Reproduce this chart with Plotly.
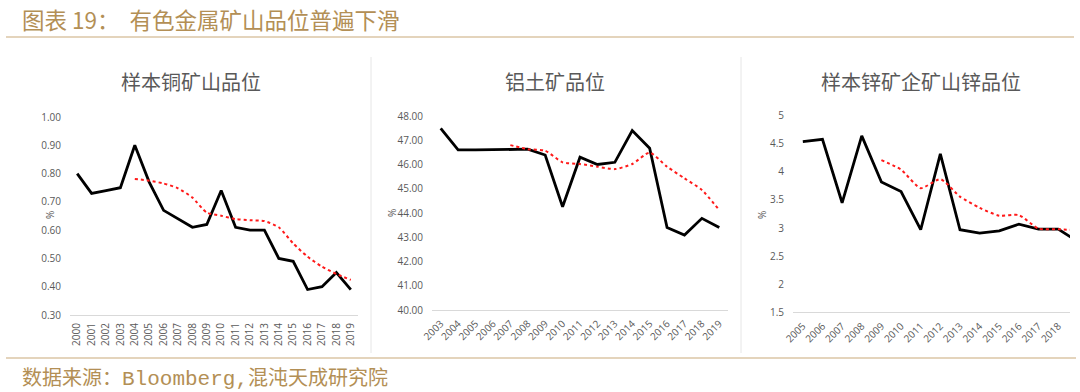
import plotly.graph_objects as go

W, H = 1080, 392

# ---- data ----
cu_years = [str(y) for y in range(2000, 2020)]
cu_grade = [0.80, 0.73, 0.74, 0.75, 0.90, 0.77, 0.67, 0.64, 0.61, 0.62,
            0.74, 0.61, 0.60, 0.60, 0.50, 0.49, 0.39, 0.40, 0.45, 0.39]
cu_trend_years = [str(y) for y in range(2004, 2020)]
cu_trend = [0.781, 0.775, 0.765, 0.748, 0.715, 0.662, 0.651, 0.639, 0.635, 0.632,
            0.610, 0.553, 0.506, 0.471, 0.445, 0.424]

al_years = [str(y) for y in range(2003, 2020)]
al_grade = [47.49, 46.60, 46.60, 46.60, 46.61, 46.63, 46.39, 44.26, 46.30, 46.00,
            46.09, 47.40, 46.67, 43.40, 43.09, 43.78, 43.40]
al_trend_years = [str(y) for y in range(2007, 2020)]
al_trend = [46.80, 46.63, 46.57, 46.09, 46.02, 45.91, 45.81, 46.02, 46.49, 45.91,
            45.43, 44.95, 44.12]

zn_years = [str(y) for y in range(2005, 2020)]
zn_grade = [4.54, 4.58, 3.45, 4.64, 3.82, 3.65, 2.97, 4.32, 2.97, 2.91,
            2.95, 3.07, 2.98, 2.98, 2.76]
zn_trend_years = [str(y) for y in range(2009, 2020)]
zn_trend = [4.21, 4.04, 3.71, 3.87, 3.56, 3.36, 3.22, 3.23, 2.99, 2.98, 2.96]

cu_ticks = [0.30, 0.40, 0.50, 0.60, 0.70, 0.80, 0.90, 1.00]
al_ticks = [40, 41, 42, 43, 44, 45, 46, 47, 48]
zn_ticks = [1.5, 2, 2.5, 3, 3.5, 4, 4.5, 5]

main_title = "图表 19：  有色金属矿山品位普遍下滑"
source_cjk1 = "数据来源："
source_en = "Bloomberg,"
source_cjk2 = "混沌天成研究院"
panel_titles = ["样本铜矿山品位", "铝土矿品位", "样本锌矿企矿山锌品位"]

# ---- styles ----
GOLD = "#b38f55"
TXT = "#595959"
AX = "#d9d9d9"
FONT = "Noto Sans CJK SC"

def px(x):
    return x / W

def py(y):
    return 1 - y / H

fig = go.Figure()

panels = [
    (cu_years, cu_grade, cu_trend_years, cu_trend, "x", "y"),
    (al_years, al_grade, al_trend_years, al_trend, "x2", "y2"),
    (zn_years, zn_grade, zn_trend_years, zn_trend, "x3", "y3"),
]
for xs, ys, txs, tys, xa, ya in panels:
    fig.add_trace(go.Scatter(x=xs, y=ys, mode="lines", xaxis=xa, yaxis=ya,
                             line=dict(color="black", width=2.8), showlegend=False,
                             hoverinfo="skip"))
    fig.add_trace(go.Scatter(x=txs, y=tys, mode="lines", xaxis=xa, yaxis=ya,
                             line=dict(color="#ff1a1a", width=2, dash="dot",
                                       shape="spline", smoothing=0.6),
                             showlegend=False, hoverinfo="skip"))

tickfont = dict(family="Open Sans", size=10, color=TXT)

def xaxis(domain, cats, rng, angle, anchor):
    return dict(domain=domain, anchor=anchor, type="category", categoryarray=cats,
                categoryorder="array", range=rng, showgrid=False, showline=True,
                linecolor=AX, linewidth=1, zeroline=False, tickangle=angle,
                tickfont=tickfont, ticks="", ticklabelstandoff=3, fixedrange=True,
                automargin=False)

def yaxis(domain, anchor, rng, tickvals, fmt):
    return dict(domain=domain, anchor=anchor, range=rng, tickvals=tickvals,
                tickformat=fmt, showgrid=False, showline=False, zeroline=False,
                tickfont=tickfont, ticks="", ticklabelstandoff=8, fixedrange=True,
                automargin=False)

fig.update_layout(
    width=W, height=H, margin=dict(l=0, r=0, t=0, b=0, pad=0, autoexpand=False),
    paper_bgcolor="white", plot_bgcolor="white",
    font=dict(family=FONT, color=TXT),
    xaxis=xaxis([px(70), px(358)], cu_years, [-0.5, 19.5], -90, "y"),
    yaxis=yaxis([py(315), py(117)], "x", [0.30, 1.00], cu_ticks, ".2f"),
    xaxis2=xaxis([px(432), px(728)], al_years, [-0.5, 16.5], -45, "y2"),
    yaxis2=yaxis([py(310), py(116)], "x2", [40, 48], al_ticks, ".2f"),
    xaxis3=xaxis([px(793), px(1070)], zn_years, [-0.5, 13.6], -45, "y3"),
    yaxis3=yaxis([py(312.3), py(115.7)], "x3", [1.5, 5], zn_ticks, ""),
)

ann = []
ann.append(dict(x=px(20), y=py(19), xref="paper", yref="paper", xanchor="left",
                yanchor="middle", showarrow=False, text=main_title,
                font=dict(family=FONT, size=22.5, color=GOLD)))
source_text = (source_cjk1
               + '<span style="font-family:Liberation Mono;font-size:21px">'
               + source_en + '</span>' + source_cjk2)
ann.append(dict(x=px(20), y=py(376), xref="paper", yref="paper", xanchor="left",
                yanchor="middle", showarrow=False, text=source_text,
                font=dict(family=FONT, size=20, color=GOLD)))
for t, cx in zip(panel_titles, [191, 555, 921]):
    ann.append(dict(x=px(cx), y=py(82), xref="paper", yref="paper", xanchor="center",
                    yanchor="middle", showarrow=False, text=t,
                    font=dict(family=FONT, size=20, color=TXT)))
for cx, cy in [(50, 215), (392, 213), (762, 215)]:
    ann.append(dict(x=px(cx), y=py(cy), xref="paper", yref="paper", xanchor="center",
                    yanchor="middle", showarrow=False, text="%", textangle=-90,
                    font=dict(family="Open Sans", size=10, color=TXT)))
fig.update_layout(annotations=ann)

shapes = [
    dict(type="line", xref="paper", yref="paper", x0=px(6), x1=px(1074),
         y0=py(37), y1=py(37), line=dict(color="#c9a97a", width=1.2)),
    dict(type="line", xref="paper", yref="paper", x0=px(6), x1=px(1076),
         y0=py(358), y1=py(358), line=dict(color="#c9a97a", width=1.2)),
    dict(type="line", xref="paper", yref="paper", x0=px(371), x1=px(371),
         y0=py(57), y1=py(353), line=dict(color="#e6e6e6", width=1)),
    dict(type="line", xref="paper", yref="paper", x0=px(741), x1=px(741),
         y0=py(57), y1=py(353), line=dict(color="#e6e6e6", width=1)),
]
fig.update_layout(shapes=shapes)

fig.write_html(
    "out.html",
    config={"displayModeBar": False},
    post_script="document.body.style.margin='0px';document.body.style.overflow='hidden';",
)
